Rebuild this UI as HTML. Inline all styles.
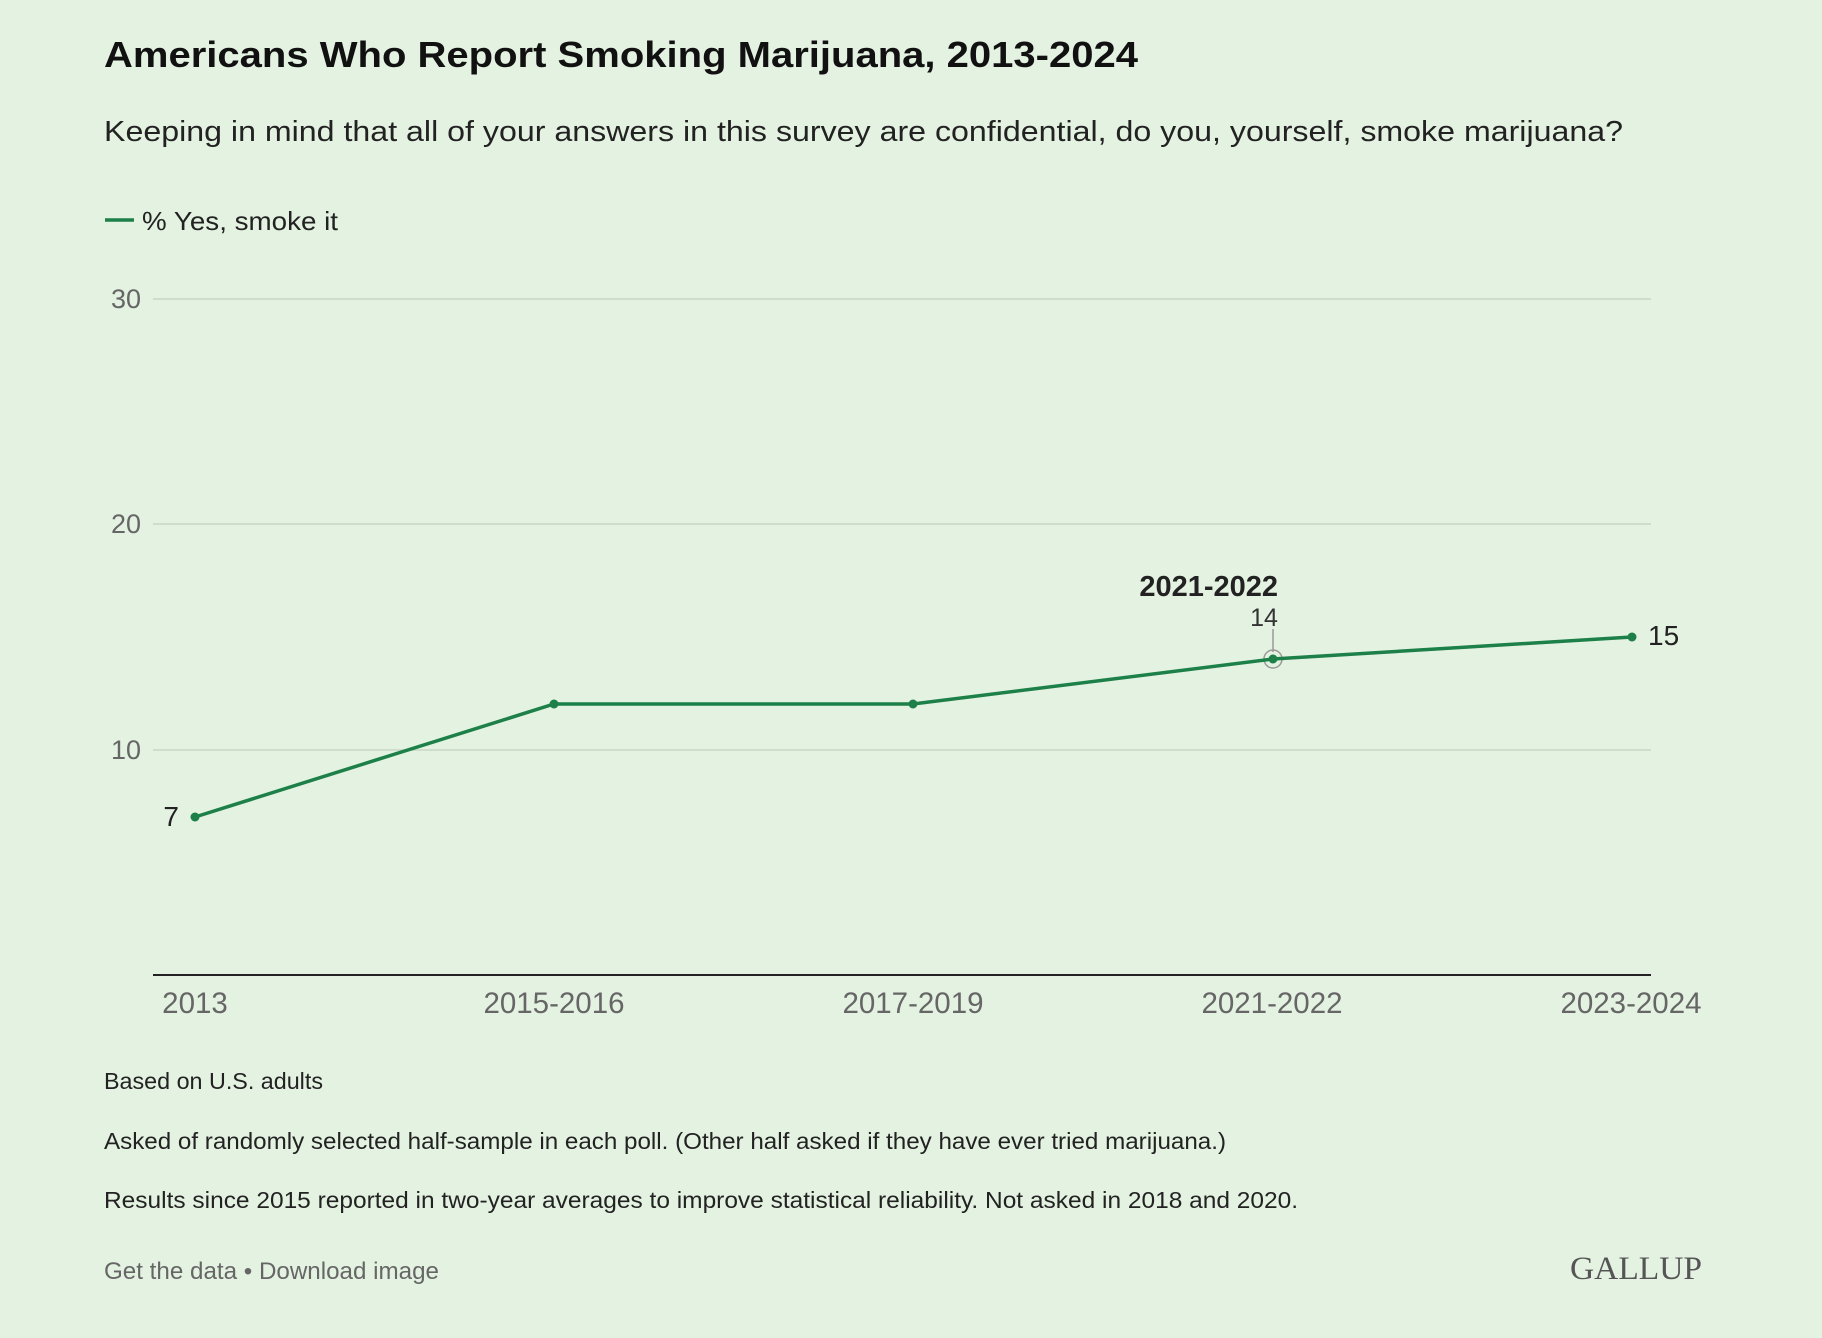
<!DOCTYPE html>
<html><head><meta charset="utf-8"><style>
body{margin:0;background:#e4f2e1;}
svg{display:block;font-family:"Liberation Sans",sans-serif;}
</style></head><body>
<svg width="1822" height="1338" viewBox="0 0 1822 1338">
<rect width="1822" height="1338" fill="#e4f2e1"/>
<text x="104" y="67" font-size="36" font-weight="bold" fill="#111" textLength="1034" lengthAdjust="spacingAndGlyphs">Americans Who Report Smoking Marijuana, 2013-2024</text>
<text x="104" y="141" font-size="29" fill="#222" textLength="1519" lengthAdjust="spacingAndGlyphs">Keeping in mind that all of your answers in this survey are confidential, do you, yourself, smoke marijuana?</text>
<line x1="105" y1="220" x2="134" y2="220" stroke="#1c8048" stroke-width="3.5"/>
<text x="142" y="230" font-size="26" fill="#222" textLength="196" lengthAdjust="spacingAndGlyphs">% Yes, smoke it</text>
<g stroke="#c7d6c5" stroke-width="1.5">
<line x1="153" y1="299" x2="1651" y2="299"/>
<line x1="153" y1="524" x2="1651" y2="524"/>
<line x1="153" y1="750" x2="1651" y2="750"/>
</g>
<line x1="153" y1="975" x2="1651" y2="975" stroke="#222" stroke-width="2"/>
<g font-size="27" fill="#666" text-anchor="end">
<text x="141" y="308">30</text><text x="141" y="533">20</text><text x="141" y="759">10</text>
</g>
<g font-size="29.5" fill="#666" text-anchor="middle">
<text x="195" y="1013">2013</text><text x="554" y="1013">2015-2016</text><text x="913" y="1013">2017-2019</text><text x="1272" y="1013">2021-2022</text><text x="1631" y="1013">2023-2024</text>
</g>
<line x1="1273" y1="629" x2="1273" y2="652" stroke="#999" stroke-width="1.5"/>
<circle cx="1273" cy="659" r="9" fill="none" stroke="#999" stroke-width="1.5"/>
<polyline points="195,817 554,704 913,704 1273,659 1632,637" fill="none" stroke="#1c8048" stroke-width="3.5"/>
<g fill="#1c8048"><circle cx="195" cy="817" r="4.5"/><circle cx="554" cy="704" r="4.5"/><circle cx="913" cy="704" r="4.5"/><circle cx="1273" cy="659" r="4.5"/><circle cx="1632" cy="637" r="4.5"/></g>
<text x="1278" y="596" font-size="29" font-weight="bold" fill="#222" text-anchor="end">2021-2022</text>
<text x="1264" y="626" font-size="25" fill="#333" text-anchor="middle">14</text>
<text x="179" y="826" font-size="28" fill="#222" text-anchor="end">7</text>
<text x="1648" y="645" font-size="28" fill="#222">15</text>
<g font-size="23" fill="#222" lengthAdjust="spacingAndGlyphs">
<text x="104" y="1089" textLength="219" lengthAdjust="spacingAndGlyphs">Based on U.S. adults</text>
<text x="104" y="1149" textLength="1122" lengthAdjust="spacingAndGlyphs">Asked of randomly selected half-sample in each poll. (Other half asked if they have ever tried marijuana.)</text>
<text x="104" y="1208" textLength="1194" lengthAdjust="spacingAndGlyphs">Results since 2015 reported in two-year averages to improve statistical reliability. Not asked in 2018 and 2020.</text>
</g>
<text x="104" y="1279" font-size="24" fill="#666" textLength="335" lengthAdjust="spacingAndGlyphs">Get the data • Download image</text>
<text x="1702" y="1279" font-size="33" fill="#555" text-anchor="end" font-family="Liberation Serif,serif" textLength="132" lengthAdjust="spacingAndGlyphs">GALLUP</text>
</svg>
</body></html>
